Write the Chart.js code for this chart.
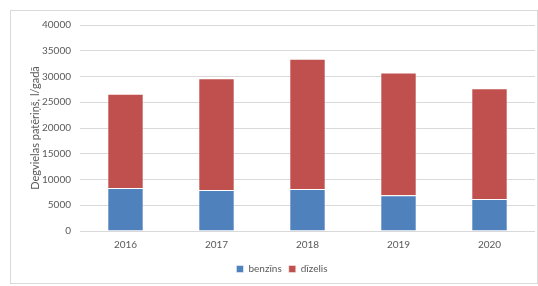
<!DOCTYPE html>
<html>
<head>
<meta charset="utf-8">
<script src="https://cdn.jsdelivr.net/npm/chart.js@4"></script>
<style>
html,body{margin:0;padding:0;background:#fff;}
#wrap{position:absolute;left:0;top:0;width:538px;height:286px;}
#frame{position:absolute;left:10px;top:10px;width:526px;height:272px;border:1px solid #d9d9d9;pointer-events:none;}
</style>
</head>
<body>
<div id="wrap"><canvas id="c" width="538" height="286"></canvas><div id="frame"></div></div>
<script>
const categories = ['2016','2017','2018','2019','2020'];
const benzins = [8330, 7950, 8140, 6920, 6200];
const dizelis = [18300, 21700, 25330, 23840, 21510];
const yTicks = [0,5000,10000,15000,20000,25000,30000,35000,40000];
const seriesNames = ['benzīns','dīzelis'];

const FONT = "Lato, 'Open Sans', 'Liberation Sans', sans-serif";
const TXT = '#595959';

new Chart(document.getElementById('c'), {
  type: 'bar',
  data: {
    labels: categories,
    datasets: [
      {label: seriesNames[0], data: benzins, backgroundColor: '#4f81bd', borderColor: 'rgba(255,255,255,0.45)', borderWidth: 1, barPercentage: 0.4, categoryPercentage: 1},
      {label: seriesNames[1], data: dizelis, backgroundColor: '#c0504d', borderColor: 'rgba(255,255,255,0.45)', borderWidth: 1, barPercentage: 0.4, categoryPercentage: 1}
    ]
  },
  options: {
    responsive: false,
    animation: false,
    devicePixelRatio: 1,
    layout: {padding: {left: 29, right: 3, top: 25, bottom: 2}},
    plugins: {
      legend: {
        position: 'bottom',
        labels: {boxWidth: 7, boxHeight: 7, padding: 7, color: TXT, font: {family: FONT, size: 10}}
      },
      tooltip: {enabled: false}
    },
    scales: {
      x: {
        stacked: true,
        afterFit: (s) => { s.height = 26; },
        grid: {display: false, drawTicks: false},
        border: {display: false},
        ticks: {color: TXT, font: {family: FONT, size: 10}, padding: 8}
      },
      y: {
        stacked: true,
        min: 0, max: 40000,
        afterBuildTicks: (s) => { s.ticks = yTicks.map(v => ({value: v})); },
        afterFit: (s) => { s.width = 51; },
        grid: {color: '#d9d9d9', drawTicks: false, lineWidth: 1},
        border: {display: false},
        ticks: {color: TXT, font: {family: FONT, size: 10}, padding: 9, callback: (v) => String(v)},
        title: {display: true, text: 'Degvielas patēriņš, l/gadā', color: TXT, font: {family: FONT, size: 11}, padding: 0}
      }
    }
  }
});
</script>
</body>
</html>
